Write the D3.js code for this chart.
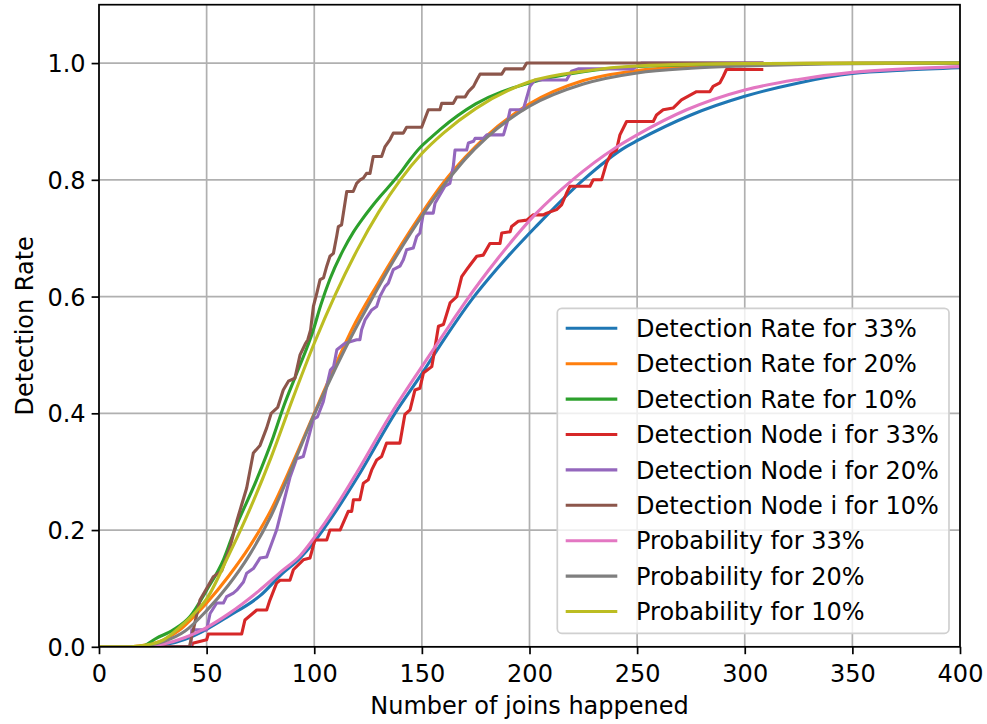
<!DOCTYPE html>
<html><head><meta charset="utf-8">
<script src="https://cdn.jsdelivr.net/npm/d3@7"></script>
<style>
body{margin:0;background:#fff;}
svg{display:block;font-family:"DejaVu Sans",sans-serif;}
</style></head>
<body>
<svg id="c" width="987" height="724"></svg>
<script>
// ---- data (x = number of joins, y = detection rate) ----
const xTicks = [0,50,100,150,200,250,300,350,400];
const yTicks = [0,0.2,0.4,0.6,0.8,1.0];
const seriesNames = ["Detection Rate for 33%","Detection Rate for 20%","Detection Rate for 10%",
  "Detection Node i for 33%","Detection Node i for 20%","Detection Node i for 10%",
  "Probability for 33%","Probability for 20%","Probability for 10%"];
const seriesColors = ["#1f77b4","#ff7f0e","#2ca02c","#d62728","#9467bd","#8c564b","#e377c2","#7f7f7f","#bcbd22"];
const seriesSmooth = [true,true,true,false,false,false,true,true,true];

const rate33 = [[0,0],[20,0],[30,0.003],[40,0.013],[50,0.03],[60,0.052],[75,0.088],[85,0.125],[93.4,0.152],[100,0.18],[110,0.232],[120,0.29],[137.5,0.4],[150,0.468],[160,0.525],[173,0.594],[185,0.648],[203,0.72],[225,0.8],[245,0.857],[250,0.867],[275,0.911],[300,0.943],[325,0.966],[350,0.982],[375,0.988],[400,0.992]];
const rate20 = [[0,0],[15,0],[20,0.002],[30,0.012],[37.6,0.029],[45,0.055],[50,0.075],[60,0.12],[70,0.172],[80,0.235],[90,0.315],[100,0.4],[110,0.484],[117.4,0.543],[130,0.625],[145,0.715],[160,0.795],[170,0.838],[180,0.875],[200,0.93],[225,0.97],[250,0.987],[275,0.994],[300,0.998],[350,1],[400,1]];
const rate10 = [[0,0],[19,0],[26.8,0.015],[34.5,0.029],[42.3,0.052],[50,0.097],[57.8,0.149],[63,0.2],[73.2,0.286],[81,0.36],[85.6,0.41],[92,0.47],[99.6,0.543],[103,0.585],[107.3,0.63],[113.5,0.68],[118.1,0.71],[122,0.731],[126.7,0.754],[130.5,0.771],[136.7,0.797],[139.8,0.811],[144.4,0.834],[149.1,0.855],[153.8,0.871],[158.4,0.886],[175,0.93],[200,0.966],[225,0.985],[250,0.994],[300,0.999],[400,1]];
const node33 = [[0,0],[43,0],[43.5,0.006],[50,0.012],[50.8,0.022],[66.3,0.022],[67.8,0.046],[73.3,0.063],[77.9,0.063],[79.4,0.08],[82.5,0.109],[84.1,0.114],[88.7,0.114],[90.3,0.132],[94.9,0.149],[98,0.152],[100.3,0.183],[105.8,0.183],[107.3,0.2],[112,0.2],[115.8,0.232],[117.4,0.232],[118.2,0.252],[121.2,0.252],[122.8,0.28],[125.1,0.286],[126.7,0.303],[129,0.32],[131.3,0.326],[133.6,0.349],[139.8,0.349],[142.1,0.398],[144.5,0.406],[146.8,0.44],[149.1,0.443],[150.7,0.469],[154.6,0.48],[155.4,0.497],[157.7,0.549],[160,0.552],[163.1,0.589],[166.2,0.6],[168.5,0.634],[170.8,0.646],[172.4,0.654],[175.5,0.669],[178.5,0.671],[181.6,0.691],[186.3,0.691],[187.1,0.709],[191,0.711],[191.7,0.72],[194.8,0.729],[198.7,0.731],[201.8,0.74],[206.4,0.74],[208,0.743],[212.6,0.749],[214.9,0.757],[217.2,0.777],[218.8,0.789],[228.1,0.789],[229.6,0.8],[233.5,0.8],[235.8,0.829],[238.1,0.846],[240.4,0.851],[242,0.877],[245.1,0.9],[257.5,0.9],[259,0.911],[262.1,0.92],[266.7,0.923],[270.6,0.937],[277.6,0.951],[283.8,0.951],[285.3,0.96],[288.4,0.966],[290,0.977],[291.5,0.989],[307.9,0.989]];
const node20 = [[0,0],[42.5,0],[43.1,0.029],[50,0.029],[51.6,0.057],[54.7,0.075],[57.8,0.075],[59.3,0.086],[62.4,0.092],[64,0.097],[67.1,0.111],[68.6,0.126],[71.7,0.134],[74.8,0.152],[77.9,0.154],[80.2,0.177],[82.5,0.2],[85.6,0.245],[88.7,0.29],[91.8,0.322],[94.9,0.326],[97.3,0.358],[99.6,0.39],[101.5,0.394],[104.2,0.42],[105.7,0.445],[107.5,0.474],[109,0.48],[110.5,0.509],[114.3,0.52],[119.7,0.526],[121.2,0.526],[122,0.543],[123.6,0.56],[126.7,0.577],[129,0.583],[130.5,0.6],[132.9,0.617],[134.4,0.623],[136.7,0.646],[139.8,0.652],[141.4,0.663],[142.9,0.68],[146,0.683],[147.6,0.703],[149.1,0.709],[150.7,0.743],[155.3,0.743],[156.1,0.76],[160.7,0.789],[163,0.794],[164.6,0.823],[165.4,0.851],[170.8,0.851],[171.6,0.863],[174,0.866],[174.7,0.871],[178.6,0.871],[180.2,0.877],[187.9,0.877],[190.2,0.906],[191,0.92],[197.1,0.92],[200.2,0.96],[202.5,0.971],[217.2,0.971],[219.5,0.986],[222.6,0.99],[248,0.99],[252,1],[308,1]];
const node10 = [[0,0],[42,0],[43.8,0.029],[46.9,0.08],[50,0.1],[53.1,0.12],[57,0.13],[60.9,0.171],[64,0.215],[66,0.24],[68.6,0.272],[71.7,0.332],[74.8,0.345],[77.9,0.375],[80,0.4],[83,0.41],[85.6,0.44],[88,0.455],[91,0.46],[93.4,0.5],[96,0.52],[97,0.526],[98.3,0.543],[99.6,0.583],[101.2,0.606],[102.7,0.629],[104.3,0.632],[105.8,0.652],[107.3,0.669],[108.9,0.674],[110.4,0.703],[111.2,0.72],[112.7,0.723],[115.1,0.78],[118.1,0.78],[119.7,0.794],[121.3,0.8],[122.8,0.803],[124.3,0.811],[125.9,0.811],[127.4,0.84],[131.3,0.84],[132.9,0.857],[135.2,0.869],[136.7,0.88],[141.4,0.88],[142.9,0.89],[149.9,0.89],[153,0.92],[158.4,0.92],[159.2,0.931],[164.6,0.931],[166.2,0.942],[170.1,0.942],[171.6,0.951],[174,0.96],[175.5,0.971],[177,0.981],[187.1,0.981],[188.6,0.99],[197.1,0.99],[198.7,1],[308,1]];
const prob33 = [[0,0],[15,0],[20,0.001],[30,0.005],[40,0.016],[50,0.033],[60,0.056],[74,0.095],[85,0.13],[93.4,0.156],[100,0.187],[110,0.24],[120,0.3],[135,0.395],[150,0.48],[163.8,0.556],[170.8,0.594],[185,0.664],[203,0.742],[220,0.8],[240,0.855],[250,0.877],[273,0.92],[300,0.954],[325,0.972],[350,0.984],[375,0.99],[400,0.994]];
const prob20 = [[0,0],[15,0],[20,0.001],[30,0.009],[40,0.027],[50,0.062],[60,0.105],[70,0.158],[80,0.225],[90,0.31],[100,0.398],[110,0.478],[118.9,0.543],[127.4,0.6],[135,0.65],[145,0.71],[150,0.738],[160,0.79],[165,0.813],[170,0.835],[180,0.872],[190,0.902],[200,0.926],[225,0.964],[250,0.983],[275,0.991],[300,0.995],[350,0.999],[400,1]];
const prob10 = [[0,0],[15,0],[20,0.002],[30,0.012],[37.6,0.034],[45,0.06],[50,0.082],[60,0.155],[70,0.235],[80,0.325],[90,0.425],[100,0.52],[110,0.605],[120,0.68],[130,0.745],[140,0.8],[150,0.845],[160,0.88],[175,0.922],[200,0.968],[225,0.986],[250,0.995],[300,0.999],[400,1]];

const allSeries = [rate33, rate20, rate10, node33, node20, node10, prob33, prob20, prob10];

// ---- layout ----
const L = 99, R = 960, T = 4.7, B = 646.8;
const FS = 24;
const svg = d3.select("#c");
const x = d3.scaleLinear().domain([0,400]).range([L,R]);
const y = d3.scaleLinear().domain([0,1.1]).range([B,T]);

// grid
const grid = svg.append("g");
grid.selectAll("line.gx").data(xTicks).join("line")
  .attr("x1",d=>x(d)).attr("x2",d=>x(d)).attr("y1",T).attr("y2",B)
  .attr("stroke","#b0b0b0").attr("stroke-width",1.7);
grid.selectAll("line.gy").data(yTicks).join("line")
  .attr("y1",d=>y(d)).attr("y2",d=>y(d)).attr("x1",L).attr("x2",R)
  .attr("stroke","#b0b0b0").attr("stroke-width",1.7);

// lines
svg.append("clipPath").attr("id","pc").append("rect")
  .attr("x",L).attr("y",T).attr("width",R-L).attr("height",B-T);
const lineStep = d3.line().x(d=>x(d[0])).y(d=>y(d[1]));
const lineSmooth = d3.line().x(d=>x(d[0])).y(d=>y(d[1])).curve(d3.curveMonotoneX);
svg.append("g").attr("clip-path","url(#pc)")
  .selectAll("path").data(allSeries).join("path")
  .attr("d",(d,i)=>seriesSmooth[i] ? lineSmooth(d) : lineStep(d)).attr("fill","none")
  .attr("stroke",(d,i)=>seriesColors[i]).attr("stroke-width",3.1)
  .attr("stroke-linejoin","round").attr("stroke-linecap","square");

// axes
const xAxis = d3.axisBottom(x).tickValues(xTicks).tickFormat(d3.format("d")).tickSize(7.4).tickPadding(6);
const yAxis = d3.axisLeft(y).tickValues(yTicks).tickFormat(d3.format(".1f")).tickSize(7.4).tickPadding(6);
const gx = svg.append("g").attr("transform",`translate(0,${B})`).call(xAxis);
const gy = svg.append("g").attr("transform",`translate(${L},0)`).call(yAxis);
[gx,gy].forEach(g=>{
  g.select(".domain").remove();
  g.selectAll(".tick line").attr("stroke","#000").attr("stroke-width",1.7);
  g.selectAll(".tick text").attr("fill","#000").attr("font-size",FS).attr("font-family","DejaVu Sans");
});
gx.selectAll(".tick text").attr("dy","0.92em");
gy.selectAll(".tick text").attr("dy","0.36em");

// frame
svg.append("rect").attr("x",L).attr("y",T).attr("width",R-L).attr("height",B-T)
  .attr("fill","none").attr("stroke","#000").attr("stroke-width",1.7);

// labels
svg.append("text").attr("x",(L+R)/2).attr("y",714).attr("text-anchor","middle")
  .attr("font-size",FS).text("Number of joins happened");
svg.append("text").attr("transform",`translate(33,${(T+B)/2}) rotate(-90)`).attr("text-anchor","middle")
  .attr("font-size",FS).text("Detection Rate");

// legend
const lg = svg.append("g");
lg.append("rect").attr("x",557.3).attr("y",308.3).attr("width",391.7).attr("height",325)
  .attr("rx",4.5).attr("fill","#fff").attr("fill-opacity",0.8).attr("stroke","#d0d0d0").attr("stroke-width",1.7);
const items = lg.selectAll("g.it").data(seriesNames).join("g")
  .attr("transform",(d,i)=>`translate(0,${328.3+i*35.4})`);
items.append("line").attr("x1",565.7).attr("x2",617.3)
  .attr("stroke",(d,i)=>seriesColors[i]).attr("stroke-width",3.1);
items.append("text").attr("x",636).attr("dy","0.36em").attr("font-size",FS).text(d=>d);
</script>
</body></html>
